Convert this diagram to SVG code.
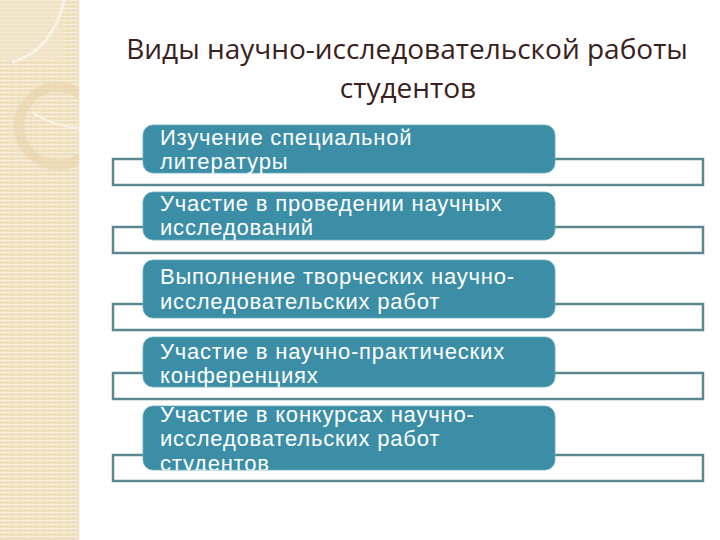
<svg xmlns="http://www.w3.org/2000/svg" width="720" height="540" viewBox="0 0 720 540">
  <defs>
    <pattern id="stripes" x="0" y="0" width="6" height="4" patternUnits="userSpaceOnUse">
      <rect width="6" height="4" fill="#f0e1c2"/>
      <rect y="0" width="6" height="1" fill="#f7eedb"/>
      <rect x="0" y="2" width="2" height="1" fill="#e9d8b3"/>
    </pattern>
    <clipPath id="clipStrip"><rect x="0" y="0" width="79" height="540"/></clipPath>
    <clipPath id="clip4"><rect x="143" y="337" width="412" height="50" rx="10"/></clipPath>
    <clipPath id="clip5"><rect x="143" y="406" width="412" height="64" rx="10"/></clipPath>
  </defs>
  <style>
    .frame { fill: none; stroke: #5a8790; stroke-width: 2.5; }
    .box { fill: #3b8ea6; stroke: #6aaec0; stroke-width: 0.8; }
    .label { font-family: "Liberation Sans", Arial, sans-serif; font-size: 22px; letter-spacing: 0.8px; fill: #ffffff; }
    .title { font-family: "Open Sans", "Noto Sans", sans-serif; font-size: 28px; fill: #3b2020; text-anchor: middle; }
  </style>
  <rect width="720" height="540" fill="#ffffff"/>
  <!-- decorative left strip -->
  <g id="decor">
    <rect x="0" y="0" width="79" height="540" fill="url(#stripes)"/>
    <line x1="79" y1="0" x2="79" y2="540" stroke="#f3e9d2" stroke-width="1"/>
    <g clip-path="url(#clipStrip)">
      <rect x="0" y="0" width="62" height="62" fill="#f3e6cc" opacity="0.6"/>
      <path d="M64,0 C58,30 40,55 12,62" fill="none" stroke="#faf4e6" stroke-width="3"/>
      <circle cx="58" cy="126" r="39" fill="none" stroke="#e6d3a8" stroke-width="10" opacity="0.55"/>
      <path d="M32,112 C45,122 60,126 79,128" fill="none" stroke="#faf4e6" stroke-width="2"/>
    </g>
  </g>
  <g id="title">
    <text class="title" x="407" y="59">Виды научно-исследовательской работы</text>
    <text class="title" x="408" y="98">студентов</text>
  </g>
  <g id="connectors"></g>
  <g id="node1">
    <rect class="frame" x="113" y="159" width="590" height="26"/>
    <rect class="box" x="143" y="125" width="412" height="48" rx="10"/>
    <text class="label" x="160" y="144.5">Изучение специальной</text>
    <text class="label" x="160" y="169.1">литературы</text>
  </g>
  <g id="node2">
    <rect class="frame" x="113" y="227" width="590" height="26"/>
    <rect class="box" x="143" y="192" width="412" height="48" rx="10"/>
    <text class="label" x="160" y="210.5">Участие в проведении научных</text>
    <text class="label" x="160" y="235.1">исследований</text>
  </g>
  <g id="node3">
    <rect class="frame" x="113" y="304" width="590" height="26"/>
    <rect class="box" x="143" y="260" width="412" height="58" rx="10"/>
    <text class="label" x="160" y="283.5">Выполнение творческих научно-</text>
    <text class="label" x="160" y="308.5">исследовательских работ</text>
  </g>
  <g id="node4">
    <rect class="frame" x="113" y="373" width="590" height="26"/>
    <rect class="box" x="143" y="337" width="412" height="50" rx="10"/>
    <g clip-path="url(#clip4)">
      <text class="label" x="160" y="358.5">Участие в научно-практических</text>
      <text class="label" x="160" y="383.1">конференциях</text>
    </g>
  </g>
  <g id="node5">
    <rect class="frame" x="113" y="455" width="590" height="26"/>
    <rect class="box" x="143" y="406" width="412" height="64" rx="10"/>
    <g clip-path="url(#clip5)">
      <text class="label" x="160" y="421.8">Участие в конкурсах научно-</text>
      <text class="label" x="160" y="446.4">исследовательских работ</text>
      <text class="label" x="160" y="471">студентов</text>
    </g>
  </g>
</svg>
